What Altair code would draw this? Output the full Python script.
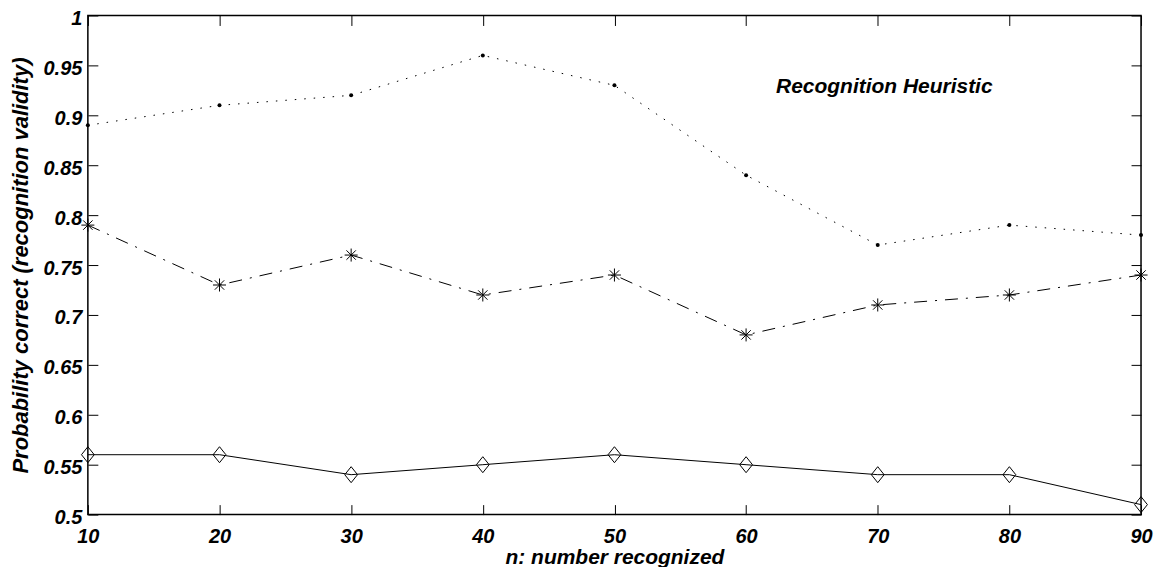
import altair as alt
import pandas as pd

# ---------------- data ----------------
n_recognized = [10, 20, 30, 40, 50, 60, 70, 80, 90]
series_dotted = [0.89, 0.91, 0.92, 0.96, 0.93, 0.84, 0.77, 0.79, 0.78]
series_dashdot = [0.79, 0.73, 0.76, 0.72, 0.74, 0.68, 0.71, 0.72, 0.74]
series_solid = [0.56, 0.56, 0.54, 0.55, 0.56, 0.55, 0.54, 0.54, 0.51]

x_ticks = [10, 20, 30, 40, 50, 60, 70, 80, 90]
y_ticks = [0.5, 0.55, 0.6, 0.65, 0.7, 0.75, 0.8, 0.85, 0.9, 0.95, 1.0]

annotation_text = ["Recognition Heuristic"]
annotation_n = [70.5]
annotation_p = [0.928]

x_title = "n: number recognized"
y_title = "Probability correct (recognition validity)"

# ---------------- styling ----------------
FONT = "Liberation Sans"
ASTERISK = "M-1,0L1,0M0,-1L0,1M-0.72,-0.72L0.72,0.72M-0.72,0.72L0.72,-0.72"
DIAMOND = "M0,-1L0.8,0L0,1L-0.8,0Z"

x_scale = alt.Scale(domain=[10, 90], nice=False, zero=False)
y_scale = alt.Scale(domain=[0.5, 1.0], nice=False, zero=False)

common_axis = dict(
    offset=-10, tickSize=10, domain=False, grid=False,
    tickColor="black", tickWidth=1,
    labelFont=FONT, labelFontSize=20, labelFontWeight="bold",
    labelFontStyle="italic", labelColor="black",
    labelFlush=False, labelOverlap=False,
    titleFont=FONT, titleFontWeight="bold", titleFontStyle="italic",
    titleColor="black",
)

x_axis_bottom = alt.Axis(values=x_ticks, format="d", labelPadding=12,
                         title=x_title, titleFontSize=21, titlePadding=0,
                         orient="bottom", **common_axis)
y_axis_left = alt.Axis(values=y_ticks, format="~g", labelPadding=6,
                       labelOffset=3,
                       title=y_title, titleFontSize=22, titlePadding=11,
                       orient="left", **common_axis)
x_axis_top = alt.Axis(values=x_ticks, labels=False, title=None, orient="top",
                      offset=-10, tickSize=10, domain=False, grid=False,
                      tickColor="black", tickWidth=1)
y_axis_right = alt.Axis(values=y_ticks, labels=False, title=None, orient="right",
                        offset=-10, tickSize=10, domain=False, grid=False,
                        tickColor="black", tickWidth=1)

df = pd.DataFrame({"n": n_recognized, "dotted": series_dotted,
                   "dashdot": series_dashdot, "solid": series_solid})
ann = pd.DataFrame({"n": annotation_n, "p": annotation_p, "t": annotation_text})


def series_layers(col, dash, shape, size, filled):
    x = alt.X("n:Q", scale=x_scale, axis=None)
    y = alt.Y(f"{col}:Q", scale=y_scale, axis=None)
    line_kwargs = dict(color="black", strokeWidth=1, strokeCap="butt")
    if dash:
        line_kwargs["strokeDash"] = dash
    line = alt.Chart(df).mark_line(**line_kwargs).encode(x=x, y=y)
    pts = alt.Chart(df).mark_point(
        shape=shape, size=size, filled=filled, color="black",
        strokeWidth=1, opacity=1,
    ).encode(x=x, y=y)
    return [line, pts]


layers = []
# axis carriers
layers.append(alt.Chart(df).mark_point(opacity=0).encode(
    x=alt.X("n:Q", scale=x_scale, axis=x_axis_bottom),
    y=alt.Y("solid:Q", scale=y_scale, axis=y_axis_left)))
layers.append(alt.Chart(df).mark_point(opacity=0).encode(
    x=alt.X("n:Q", scale=x_scale, axis=x_axis_top),
    y=alt.Y("solid:Q", scale=y_scale, axis=y_axis_right)))

layers += series_layers("dotted", [1.5, 8], "circle", 16, True)
layers += series_layers("dashdot", [13, 8, 2, 8], ASTERISK, 170, False)
layers += series_layers("solid", None, DIAMOND, 256, False)

layers.append(alt.Chart(ann).mark_text(
    font=FONT, fontSize=21, fontWeight="bold", fontStyle="italic",
    color="black", align="center", baseline="middle",
).encode(
    x=alt.X("n:Q", scale=x_scale, axis=None),
    y=alt.Y("p:Q", scale=y_scale, axis=None),
    text="t:N"))

chart = alt.layer(*layers).resolve_axis(
    x="independent", y="independent"
).properties(
    width=1055, height=500,
    autosize=alt.AutoSizeParams(type="none"),
    padding={"left": 80, "top": 7, "right": 15, "bottom": 52},
    background="white",
).configure_view(stroke="black", strokeWidth=1.5)

chart.save("out.html", embed_options={"renderer": "svg", "actions": False})
